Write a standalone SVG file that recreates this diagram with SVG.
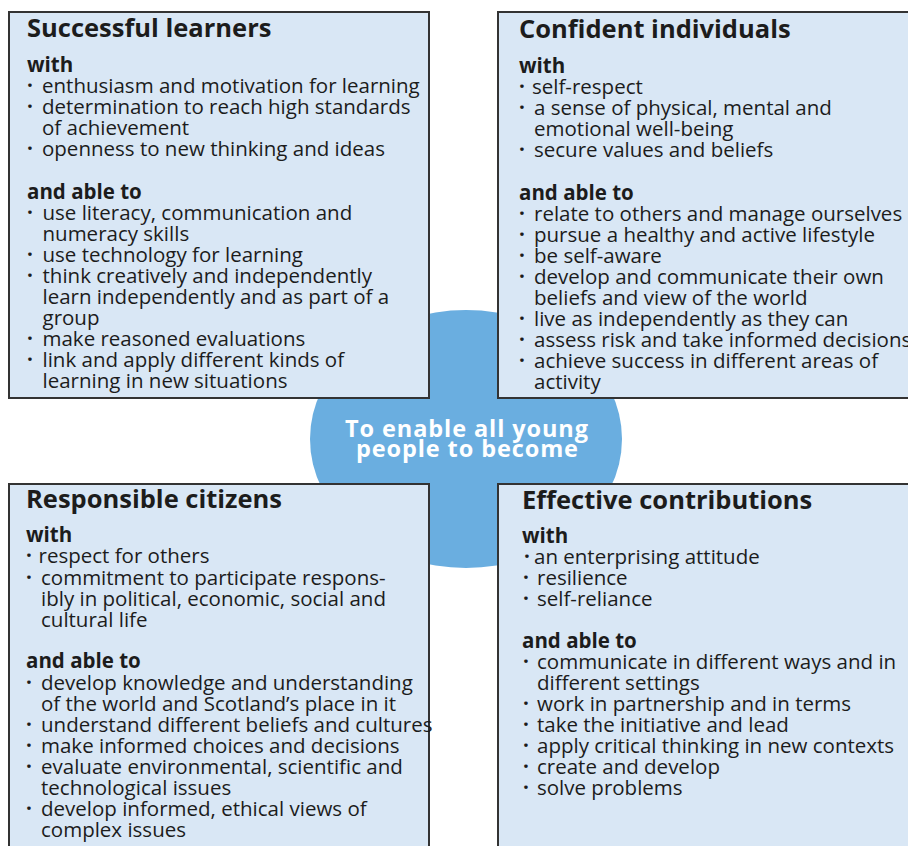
<svg xmlns="http://www.w3.org/2000/svg" width="908" height="846" viewBox="0 0 908 846">
<style>
.box{fill:#d9e7f5;stroke:#333;stroke-width:2}
.t{font-family:"Open Sans","Noto Sans","Liberation Sans",sans-serif;font-weight:700;font-size:25.5px;fill:#1c1c1c}
.h{font-family:"Open Sans","Noto Sans","Liberation Sans",sans-serif;font-weight:700;font-size:20.5px;fill:#1c1c1c}
.i{font-family:"Open Sans","Noto Sans","Liberation Sans",sans-serif;font-size:20.5px;fill:#1c1c1c}
.b{font-family:"Open Sans","Noto Sans","Liberation Sans",sans-serif;font-weight:700;font-size:20.5px;fill:#1c1c1c;text-anchor:middle}
.c{font-family:"Open Sans","Noto Sans","Liberation Sans",sans-serif;font-weight:700;font-size:23.5px;fill:#ffffff;text-anchor:middle}
</style>
<rect width="908" height="846" fill="#ffffff"/>
<g id="hub">
<ellipse cx="466" cy="439" rx="156" ry="129" fill="#6aaee0"/>
</g>
<g id="connectors"></g>
<g id="successful-learners">
<rect class="box" x="9" y="12" width="420" height="386"/>
<text class="t" x="27" y="37">Successful learners</text>
<text class="h" x="27" y="72">with</text>
<text class="b" x="30" y="93">·</text><text class="i" x="42" y="93">enthusiasm and motivation for learning</text>
<text class="b" x="30" y="114">·</text><text class="i" x="42" y="114">determination to reach high standards</text>
<text class="i" x="42" y="135">of achievement</text>
<text class="b" x="30" y="156">·</text><text class="i" x="42" y="156">openness to new thinking and ideas</text>
<text class="h" x="27" y="199">and able to</text>
<text class="b" x="30" y="220">·</text><text class="i" x="42.5" y="220">use literacy, communication and</text>
<text class="i" x="42.5" y="241">numeracy skills</text>
<text class="b" x="30" y="262">·</text><text class="i" x="42.5" y="262">use technology for learning</text>
<text class="b" x="30" y="283">·</text><text class="i" x="42.5" y="283">think creatively and independently</text>
<text class="i" x="42.5" y="304">learn independently and as part of a</text>
<text class="i" x="42.5" y="325">group</text>
<text class="b" x="30" y="346">·</text><text class="i" x="42.5" y="346">make reasoned evaluations</text>
<text class="b" x="30" y="367">·</text><text class="i" x="42.5" y="367">link and apply different kinds of</text>
<text class="i" x="42.5" y="388">learning in new situations</text>
</g>
<g id="confident-individuals">
<rect class="box" x="498" y="12" width="430" height="386"/>
<text class="t" x="519" y="38">Confident individuals</text>
<text class="h" x="519" y="73">with</text>
<text class="b" x="522" y="94">·</text><text class="i" x="532" y="94">self-respect</text>
<text class="b" x="522" y="115">·</text><text class="i" x="534" y="115">a sense of physical, mental and</text>
<text class="i" x="534" y="136">emotional well-being</text>
<text class="b" x="522" y="157">·</text><text class="i" x="534" y="157">secure values and beliefs</text>
<text class="h" x="519" y="200">and able to</text>
<text class="b" x="522" y="221">·</text><text class="i" x="534" y="221">relate to others and manage ourselves</text>
<text class="b" x="522" y="242">·</text><text class="i" x="534" y="242">pursue a healthy and active lifestyle</text>
<text class="b" x="522" y="263">·</text><text class="i" x="534" y="263">be self-aware</text>
<text class="b" x="522" y="284">·</text><text class="i" x="534" y="284">develop and communicate their own</text>
<text class="i" x="534" y="305">beliefs and view of the world</text>
<text class="b" x="522" y="326">·</text><text class="i" x="534" y="326">live as independently as they can</text>
<text class="b" x="522" y="347">·</text><text class="i" x="534" y="347">assess risk and take informed decisions</text>
<text class="b" x="522" y="368">·</text><text class="i" x="534" y="368">achieve success in different areas of</text>
<text class="i" x="534" y="389">activity</text>
</g>
<g id="responsible-citizens">
<rect class="box" x="9" y="484" width="420" height="400"/>
<text class="t" x="26" y="508">Responsible citizens</text>
<text class="h" x="26" y="542">with</text>
<text class="b" x="29" y="563">·</text><text class="i" x="38.5" y="563">respect for others</text>
<text class="b" x="29" y="585">·</text><text class="i" x="41" y="585">commitment to participate respons-</text>
<text class="i" x="41" y="606">ibly in political, economic, social and</text>
<text class="i" x="41" y="627">cultural life</text>
<text class="h" x="26" y="668">and able to</text>
<text class="b" x="29" y="690">·</text><text class="i" x="41" y="690">develop knowledge and understanding</text>
<text class="i" x="41" y="711">of the world and Scotland’s place in it</text>
<text class="b" x="29" y="732">·</text><text class="i" x="41" y="732">understand different beliefs and cultures</text>
<text class="b" x="29" y="753">·</text><text class="i" x="41" y="753">make informed choices and decisions</text>
<text class="b" x="29" y="774">·</text><text class="i" x="41" y="774">evaluate environmental, scientific and</text>
<text class="i" x="41" y="795">technological issues</text>
<text class="b" x="29" y="816">·</text><text class="i" x="41" y="816">develop informed, ethical views of</text>
<text class="i" x="41" y="837">complex issues</text>
</g>
<g id="effective-contributions">
<rect class="box" x="498" y="484" width="430" height="400"/>
<text class="t" x="522" y="509">Effective contributions</text>
<text class="h" x="522" y="543">with</text>
<text class="b" x="527" y="564">·</text><text class="i" x="534" y="564">an enterprising attitude</text>
<text class="b" x="526" y="585">·</text><text class="i" x="537" y="585">resilience</text>
<text class="b" x="526" y="606">·</text><text class="i" x="537" y="606">self-reliance</text>
<text class="h" x="522" y="648">and able to</text>
<text class="b" x="526" y="669">·</text><text class="i" x="537" y="669">communicate in different ways and in</text>
<text class="i" x="537" y="690">different settings</text>
<text class="b" x="526" y="711">·</text><text class="i" x="537" y="711">work in partnership and in terms</text>
<text class="b" x="526" y="732">·</text><text class="i" x="537" y="732">take the initiative and lead</text>
<text class="b" x="526" y="753">·</text><text class="i" x="537" y="753">apply critical thinking in new contexts</text>
<text class="b" x="526" y="774">·</text><text class="i" x="537" y="774">create and develop</text>
<text class="b" x="526" y="795">·</text><text class="i" x="537" y="795">solve problems</text>
</g>
<g id="hub-label">
<text class="c" x="466.5" y="437" textLength="243" lengthAdjust="spacing">To enable all young</text>
<text class="c" x="467" y="457" textLength="222" lengthAdjust="spacing">people to become</text>
</g>
</svg>
